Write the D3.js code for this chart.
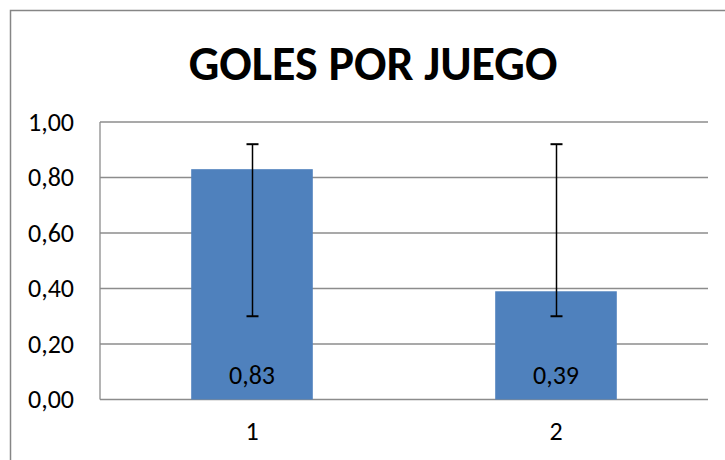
<!DOCTYPE html>
<html><head><meta charset="utf-8">
<script src="https://cdn.jsdelivr.net/npm/d3@7"></script>
<style>
html,body{margin:0;padding:0;background:#fff;}
svg{display:block;font-family:Carlito, Lato, "Open Sans", sans-serif;}
</style></head>
<body>
<svg id="c" width="725" height="460"></svg>
<script>
const title = "GOLES POR JUEGO";
const categories = ["1", "2"];
const values = [0.83, 0.39];
const errLow = [0.30, 0.30];
const errHigh = [0.92, 0.92];
const yTicks = [0, 0.2, 0.4, 0.6, 0.8, 1.0];

const svg = d3.select("#c");
const fmt = v => d3.format(".2f")(v).replace(".", ",");
const FF = "Carlito, Lato, sans-serif";

// chart border
svg.append("rect").attr("x", 10.5).attr("y", 10.5).attr("width", 740).attr("height", 460)
  .attr("fill", "#fff").attr("stroke", "#868686").attr("stroke-width", 1.5);

const L = 100, R = 708, T = 122, B = 399.5;
const x = d3.scaleBand().domain(categories).range([L, R]).paddingInner(0.6).paddingOuter(0.3);
const y = d3.scaleLinear().domain([0, 1]).range([B, T]);

svg.append("text").attr("x", 373).attr("y", 80).attr("text-anchor", "middle")
  .attr("font-size", 48).attr("font-weight", "bold").attr("fill", "#000").text(title);

// gridlines
svg.append("g").selectAll("line").data(yTicks).join("line")
  .attr("x1", L).attr("x2", R).attr("y1", d => y(d)).attr("y2", d => y(d))
  .attr("stroke", "#8c8c8c").attr("stroke-width", 1.3);

// y axis line
svg.append("line").attr("x1", L).attr("x2", L).attr("y1", T).attr("y2", B)
  .attr("stroke", "#8c8c8c").attr("stroke-width", 1.3);

const yAxis = svg.append("g").attr("transform", `translate(${L},0)`)
  .call(d3.axisLeft(y).tickValues(yTicks).tickFormat(fmt).tickSize(0).tickPadding(26));
yAxis.attr("font-size", 26).attr("font-family", FF);
yAxis.select(".domain").remove();
yAxis.selectAll("text").attr("fill", "#000");

const xAxis = svg.append("g").attr("transform", `translate(0,${B})`)
  .call(d3.axisBottom(x).tickSize(0).tickPadding(22));
xAxis.attr("font-size", 26).attr("font-family", FF);
xAxis.select(".domain").remove();
xAxis.selectAll("text").attr("fill", "#000");

// bars
svg.append("g").selectAll("rect").data(values).join("rect")
  .attr("x", (d, i) => x(categories[i])).attr("width", x.bandwidth())
  .attr("y", d => y(d)).attr("height", d => B - y(d))
  .attr("fill", "#4f81bd");

// value labels
svg.append("g").selectAll("text").data(values).join("text")
  .attr("x", (d, i) => x(categories[i]) + x.bandwidth() / 2).attr("y", 384)
  .attr("text-anchor", "middle").attr("font-size", 26).attr("font-family", FF).attr("fill", "#000").text(d => fmt(d));

// error bars
const eb = svg.append("g").attr("stroke", "#000").attr("stroke-width", 1.5);
categories.forEach((c, i) => {
  const cx = Math.round(x(c) + x.bandwidth() / 2) + 0.5;
  eb.append("line").attr("x1", cx).attr("x2", cx).attr("y1", y(errHigh[i])).attr("y2", y(errLow[i]));
  eb.append("line").attr("x1", cx - 6).attr("x2", cx + 6).attr("y1", y(errHigh[i])).attr("y2", y(errHigh[i])).attr("stroke-width", 2);
  eb.append("line").attr("x1", cx - 6).attr("x2", cx + 6).attr("y1", y(errLow[i])).attr("y2", y(errLow[i])).attr("stroke-width", 2);
});
</script>
</body></html>
